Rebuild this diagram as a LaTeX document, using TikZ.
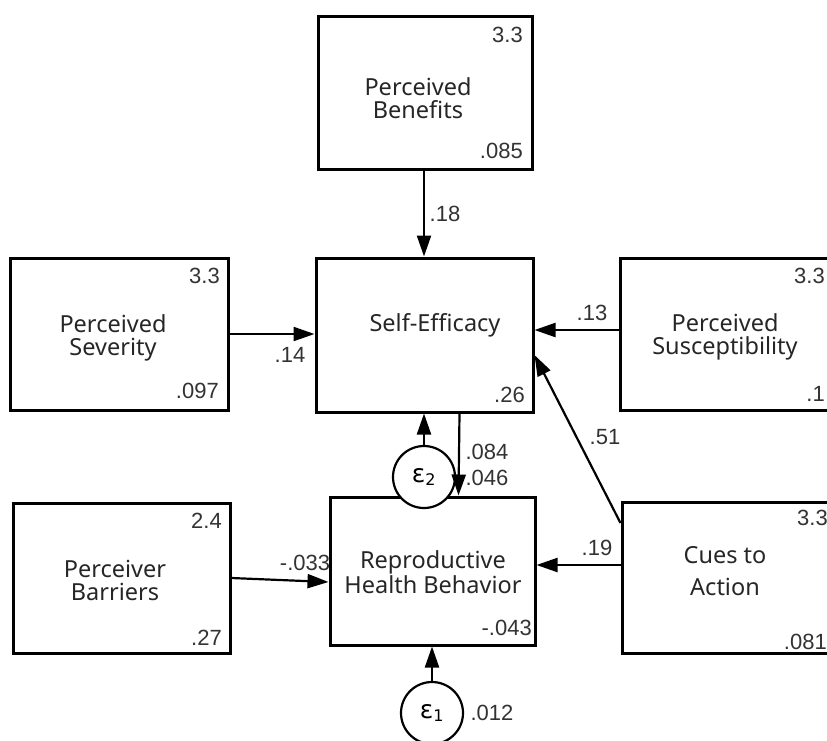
\documentclass[tikz,border=0pt]{standalone}
\usepackage{fontspec}
\setmainfont{Liberation Sans}
\newfontfamily\boxfont{Noto Sans}
\newfontfamily\epsfont{DejaVu Sans}
\usetikzlibrary{arrows.meta,calc}
\begin{document}
\begin{tikzpicture}[x=1pt,y=-1pt,
  box/.style={draw, line width=3pt, inner sep=0pt},
  txt/.style={font=\boxfont\fontsize{23.5}{23}\selectfont, align=center, text=black!85, inner sep=0pt},
  num/.style={font=\fontsize{22}{22}\selectfont, text=black!80, inner sep=0pt},
  rnum/.style={num, anchor=east},
  arr/.style={line width=2.2pt, -{Triangle[length=21pt,width=14pt]}},
  errc/.style={draw, circle, line width=2.2pt, minimum size=62pt, inner sep=0pt, fill=white,
    font=\epsfont\fontsize{25}{25}\selectfont}
]
\useasboundingbox (0,0) rectangle (827,740);
\clip (0,0) rectangle (827,740);
\fill[white] (0,0) rectangle (827,740);

% boxes
\node[box, minimum width=214pt, minimum height=153pt] (pb) at (425,92.5) {};
\node[box, minimum width=217pt, minimum height=154pt] (se) at (424.5,335) {};
\node[box, minimum width=218pt, minimum height=152pt] (ps) at (119,334) {};
\node[box, minimum width=215pt, minimum height=152pt] (psu) at (727.5,334) {};
\node[box, minimum width=215pt, minimum height=151pt] (ca) at (729.5,577.5) {};
\node[box, minimum width=217pt, minimum height=150pt] (pbar) at (121.5,578) {};
\node[box, minimum width=205pt, minimum height=148pt] (rhb) at (432.5,571) {};

% box texts
\node[txt] (pbt) at (418,98) {Perceived\\Benefits};
\node[txt] (pst) at (113,338) {Perceived\\Severity};
\node[txt] (set) at (435,325) {Self-Efficacy};
\node[txt] (psut) at (725,337) {Perceived\\Susceptibility};
\node[txt, font=\boxfont\fontsize{23.5}{32}\selectfont] (cat) at (725,571) {Cues to\\Action};
\node[txt] (pbart) at (115,580) {Perceiver\\Barriers};
\node[txt] (rhbt) at (433,572) {Reproductive\\Health Behavior};

% corner numbers
\node[rnum] (pb1) at (523,35) {3.3};
\node[rnum] (pb2) at (523,151) {.085};
\node[rnum] (ps1) at (220,276) {3.3};
\node[rnum] (ps2) at (219,391) {.097};
\node[rnum] (psu1) at (825,276) {3.3};
\node[rnum] (psu2) at (825,394) {.1};
\node[rnum] (ca1) at (828,518) {3.3};
\node[rnum] (ca2) at (827,642) {.081};
\node[rnum] (pbar1) at (222,521) {2.4};
\node[rnum] (pbar2) at (222,638) {.27};
\node[rnum] (se1) at (525,395) {.26};
\node[rnum] (rhb1) at (532,628) {-.043};

% error terms
\node[errc] (e2) at (424,477) {ε\textsubscript{\fontsize{16}{16}\selectfont 2}};
\node[errc] (e1) at (432,713) {ε\textsubscript{\fontsize{16}{16}\selectfont 1}};

% paths
\draw[arr] (pb.south -| 424,0) -- (se.north -| 424,0);
\draw[arr] (ps.east) -- (ps.east -| se.west);
\draw[arr] ($(psu.west)+(0,-4)$) -- ($(psu.west -| se.east)+(0,-4)$);
\draw[arr] ($(ca.west)+(0,-54.5)$) -- ($(se.east)+(0,20)$);
\draw[arr] ($(ca.west)+(0,-12.5)$) -- ($(rhb.east)+(0,-6)$);
\draw[arr] (pbar.east) -- ($(rhb.west)+(0,11)$);
\draw[arr] ($(se.south)+(35,0)$) -- ($(rhb.north)+(26,0)$);
\draw[arr] (e2.north) -- (e2.north |- se.south);
\draw[arr] (e1.north) -- (e1.north |- rhb.south);

% path labels
\node[num] (l18) at (445,214) {.18};
\node[num] (l14) at (290,355) {.14};
\node[num] (l13) at (592,313) {.13};
\node[num] (l51) at (605,437) {.51};
\node[num] (l19) at (597,548) {.19};
\node[num] (l033) at (305,563) {-.033};
\node[num] (l084) at (487,452) {.084};
\node[num] (l046) at (487,478) {.046};
\node[num] (l012) at (492,713) {.012};
\end{tikzpicture}
\end{document}
